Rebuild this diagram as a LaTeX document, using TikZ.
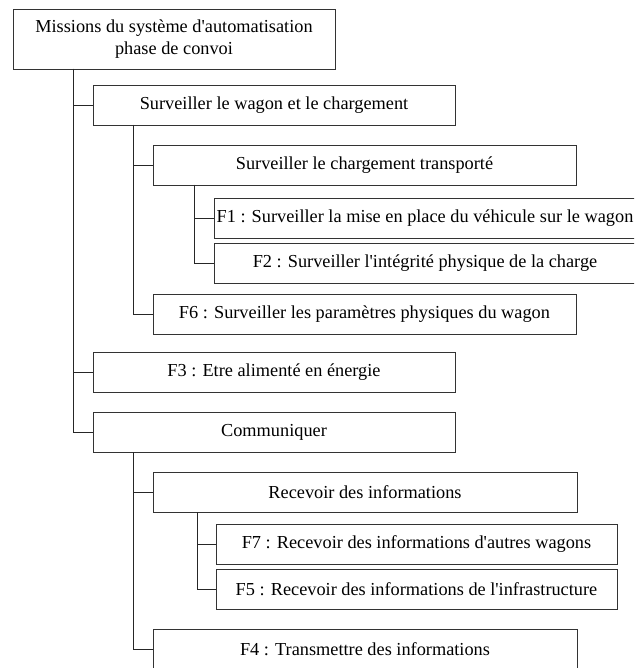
\documentclass[tikz,border=0pt]{standalone}
\usepackage{fontspec}
\setmainfont{Liberation Serif}[Ligatures=TeXOff]
\begin{document}
\begin{tikzpicture}[x=1pt,y=-1pt,
  box/.style={draw=black!80, line width=0.9pt, fill=white, minimum height=40pt,
    inner sep=0pt, outer sep=0pt, anchor=north west, font=\fontsize{18.3}{22.5}\selectfont},
  link/.style={draw=black!85, line width=0.9pt}]
\useasboundingbox (0,0) rectangle (634,668);
\clip (0,0) rectangle (634,668);
\node[box, minimum width=322pt, minimum height=60pt, align=center] (root) at (13,9)
  {Missions du système d'automatisation\\phase de convoi};
\node[box, minimum width=362pt] (swc) at (93,85) {Surveiller le wagon et le chargement};
\node[box, minimum width=423pt] (sct) at (153,145) {Surveiller le chargement transporté};
\node[box, minimum width=422pt] (f1) at (214,198) {F1 : Surveiller la mise en place du véhicule sur le wagon};
\node[box, minimum width=422pt] (f2) at (214,243) {F2 : Surveiller l'intégrité physique de la charge};
\node[box, minimum width=423pt] (f6) at (153,294) {F6 : Surveiller les paramètres physiques du wagon};
\node[box, minimum width=362pt] (f3) at (93,352) {F3 : Etre alimenté en énergie};
\node[box, minimum width=362pt] (comm) at (93,412) {Communiquer};
\node[box, minimum width=424pt] (rec) at (153,472) {Recevoir des informations};
\node[box, minimum width=401pt] (f7) at (216,524) {F7 : Recevoir des informations d'autres wagons};
\node[box, minimum width=401pt] (f5) at (216,569) {F5 : Recevoir des informations de l'infrastructure};
\node[box, minimum width=424pt] (f4) at (153,629) {F4 : Transmettre des informations};

\coordinate (t0) at ([xshift=60pt]root.south west);
\coordinate (t1) at ([xshift=40pt]swc.south west);
\coordinate (t2) at ([xshift=41pt]sct.south west);
\coordinate (t3) at ([xshift=40pt]comm.south west);
\coordinate (t4) at ([xshift=44pt]rec.south west);
\draw[link] (t0) |- (swc.west);
\draw[link] (t0) |- (f3.west);
\draw[link] (t0) |- (comm.west);
\draw[link] (t1) |- (sct.west);
\draw[link] (t1) |- (f6.west);
\draw[link] (t2) |- (f1.west);
\draw[link] (t2) |- (f2.west);
\draw[link] (t3) |- (rec.west);
\draw[link] (t3) |- (f4.west);
\draw[link] (t4) |- (f7.west);
\draw[link] (t4) |- (f5.west);
\end{tikzpicture}
\end{document}
